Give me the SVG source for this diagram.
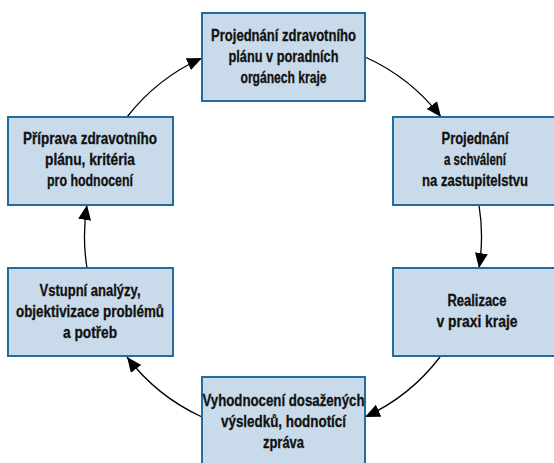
<svg xmlns="http://www.w3.org/2000/svg" width="554" height="463" viewBox="0 0 554 463">
<style>
.box{fill:#c9daea;stroke:#1e6f9f;stroke-width:2}
.t{font-family:"Liberation Sans",Arial,sans-serif;font-weight:bold;font-size:16px;fill:#111;stroke:#111;stroke-width:0.3;text-anchor:middle}
.c{fill:none;stroke:#000;stroke-width:1.3}
</style>
<defs>
<marker id="ah" markerUnits="userSpaceOnUse" markerWidth="16" markerHeight="14" refX="15" refY="6.5" orient="auto">
<path d="M0,0 L15,6.5 L0,13 z" fill="#000"/>
</marker>
</defs>
<rect width="554" height="463" fill="#fff"/>
<g id="connectors">
<path class="c" d="M365,57 A198,198 0 0,1 441,117" marker-end="url(#ah)"/>
<path class="c" d="M479,205 A198,198 0 0,1 479,268" marker-end="url(#ah)"/>
<path class="c" d="M440,357 A198,198 0 0,1 365,417" marker-end="url(#ah)"/>
<path class="c" d="M202,417 A198,198 0 0,1 127,357" marker-end="url(#ah)"/>
<path class="c" d="M87,268 A198,198 0 0,1 87,205" marker-end="url(#ah)"/>
<path class="c" d="M127,117 A198,198 0 0,1 202,58" marker-end="url(#ah)"/>
</g>
<g id="n1">
<rect class="box" x="202" y="13" width="163" height="88"/>
<text class="t" x="283.5" y="41" textLength="145" lengthAdjust="spacingAndGlyphs">Projednání zdravotního</text>
<text class="t" x="283.5" y="62" textLength="110" lengthAdjust="spacingAndGlyphs">plánu v poradních</text>
<text class="t" x="283.5" y="83" textLength="86" lengthAdjust="spacingAndGlyphs">orgánech kraje</text>
</g>
<g id="n2">
<rect class="box" x="393" y="117" width="170" height="88"/>
<text class="t" x="475" y="144" textLength="67" lengthAdjust="spacingAndGlyphs">Projednání</text>
<text class="t" x="475" y="165" textLength="62" lengthAdjust="spacingAndGlyphs">a schválení</text>
<text class="t" x="475" y="186" textLength="106" lengthAdjust="spacingAndGlyphs">na zastupitelstvu</text>
</g>
<g id="n3">
<rect class="box" x="393" y="268" width="170" height="88"/>
<text class="t" x="477" y="306" textLength="59" lengthAdjust="spacingAndGlyphs">Realizace</text>
<text class="t" x="477" y="327" textLength="81" lengthAdjust="spacingAndGlyphs">v praxi kraje</text>
</g>
<g id="n4">
<rect class="box" x="202" y="377" width="163" height="100"/>
<text class="t" x="283.5" y="406" textLength="162" lengthAdjust="spacingAndGlyphs">Vyhodnocení dosažených</text>
<text class="t" x="283.5" y="427" textLength="125" lengthAdjust="spacingAndGlyphs">výsledků, hodnotící</text>
<text class="t" x="283.5" y="448" textLength="41" lengthAdjust="spacingAndGlyphs">zpráva</text>
</g>
<g id="n5">
<rect class="box" x="8" y="268" width="165" height="88"/>
<text class="t" x="90" y="296" textLength="101" lengthAdjust="spacingAndGlyphs">Vstupní analýzy,</text>
<text class="t" x="90" y="317" textLength="148" lengthAdjust="spacingAndGlyphs">objektivizace problémů</text>
<text class="t" x="90" y="338" textLength="54" lengthAdjust="spacingAndGlyphs">a potřeb</text>
</g>
<g id="n6">
<rect class="box" x="8" y="117" width="165" height="88"/>
<text class="t" x="90" y="144" textLength="134" lengthAdjust="spacingAndGlyphs">Příprava zdravotního</text>
<text class="t" x="90" y="165" textLength="90" lengthAdjust="spacingAndGlyphs">plánu, kritéria</text>
<text class="t" x="90" y="186" textLength="86" lengthAdjust="spacingAndGlyphs">pro hodnocení</text>
</g>
</svg>
